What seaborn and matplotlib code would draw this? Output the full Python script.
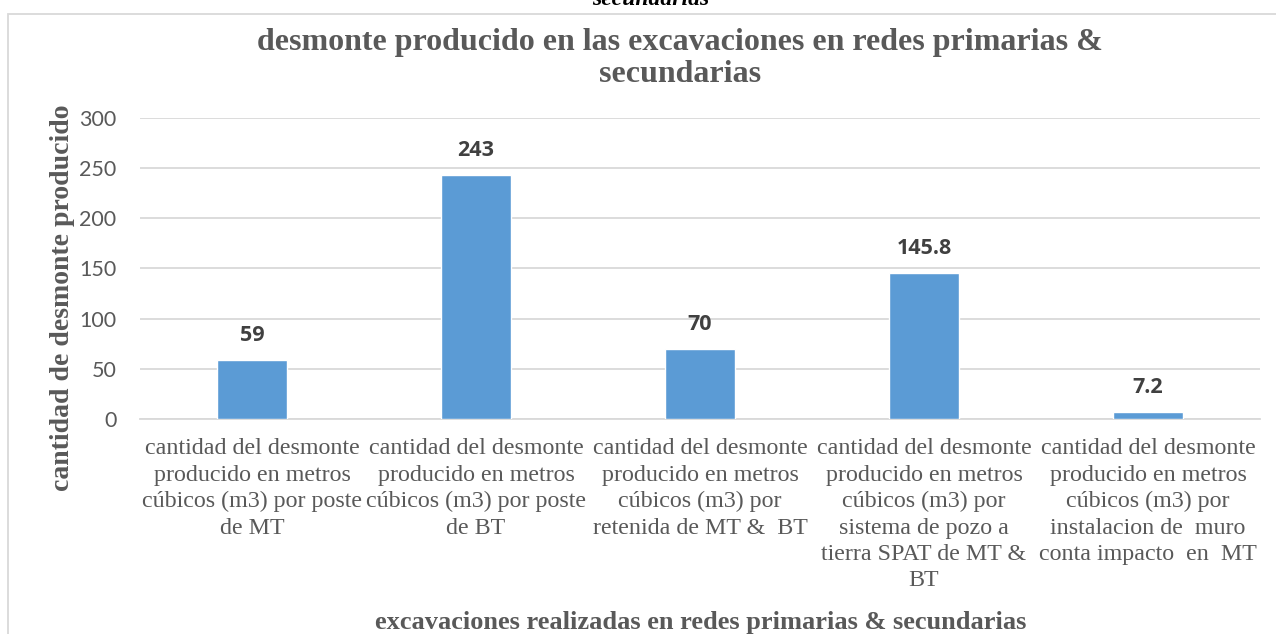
import matplotlib
matplotlib.use("Agg")
import matplotlib.pyplot as plt
import seaborn as sns
import pandas as pd
from matplotlib.patches import Rectangle

categories = [
    "cantidad del desmonte\nproducido en metros\ncúbicos (m3) por poste\nde MT",
    "cantidad del desmonte\nproducido en metros\ncúbicos (m3) por poste\nde BT",
    "cantidad del desmonte\nproducido en metros\ncúbicos (m3) por\nretenida de MT &  BT",
    "cantidad del desmonte\nproducido en metros\ncúbicos (m3) por\nsistema de pozo a\ntierra SPAT de MT &\nBT",
    "cantidad del desmonte\nproducido en metros\ncúbicos (m3) por\ninstalacion de  muro\nconta impacto  en  MT",
]
values = [59, 243, 70, 145.8, 7.2]
value_labels = ["59", "243", "70", "145.8", "7.2"]
yticks = [0, 50, 100, 150, 200, 250, 300]

title = "desmonte producido en las excavaciones en redes primarias &\nsecundarias"
xlabel = "excavaciones realizadas en redes primarias & secundarias"
ylabel = "cantidad de desmonte producido"

sns.set_theme(style="white")
plt.rcParams['font.family'] = ['Liberation Serif', 'DejaVu Serif']

TXT = "#595959"
BAR = "#5b9bd5"
GRID = "#d9d9d9"

fig = plt.figure(figsize=(12.76, 6.34), dpi=100)
ax = fig.add_axes([0.1097, 0.3391, 0.8778, 0.4748])

df = pd.DataFrame({"cat": categories, "val": values})
sns.barplot(data=df, x="cat", y="val", color=BAR, width=0.31, ax=ax,
            saturation=1, zorder=3)

ax.set_ylim(0, 300)
ax.set_yticks(yticks)
ax.set_yticklabels([str(t) for t in yticks], family=["Lato", "DejaVu Sans"],
                   fontsize=15.5, color=TXT)
ax.set_xticks(range(len(categories)))
ax.set_xticklabels(categories, fontsize=17.3, color=TXT, linespacing=1.33)
ax.tick_params(axis="both", length=0)
ax.tick_params(axis="y", pad=17)
ax.tick_params(axis="x", pad=14)
ax.yaxis.grid(True, color=GRID, linewidth=1.3, zorder=0)
ax.xaxis.grid(False)
for s in ["top", "right", "left"]:
    ax.spines[s].set_visible(False)
ax.spines["bottom"].set_color(GRID)
ax.spines["bottom"].set_linewidth(1.3)
ax.set_xlabel("")
ax.set_ylabel("")

for i, (v, lab) in enumerate(zip(values, value_labels)):
    ax.annotate(lab, (i, v), xytext=(0, 10), textcoords="offset points",
                ha="center", va="bottom", fontsize=15.5, fontweight="bold",
                color="#404040", family=["Open Sans", "DejaVu Sans"])

fig.text(0.533, 0.908, title, ha="center", va="center", fontsize=23,
         fontweight="bold", color=TXT, linespacing=1.12)
fig.text(0.549, 0.018, xlabel, ha="center", va="center", fontsize=19,
         fontweight="bold", color=TXT)
fig.text(0.049, 0.53, ylabel, ha="center", va="center", rotation=90,
         fontsize=20, fontweight="bold", color=TXT)
fig.text(0.51, 1 - 5 / 634, "secundarias", ha="center", va="baseline",
         fontsize=17, fontweight="bold", style="italic", color="black")

fig.patches.append(Rectangle((8 / 1276, -0.05), 1.2, 1 - 14 / 634 + 0.05,
                             transform=fig.transFigure, fill=False,
                             edgecolor=GRID, linewidth=1.3))

fig.savefig("out.png", dpi=100)
